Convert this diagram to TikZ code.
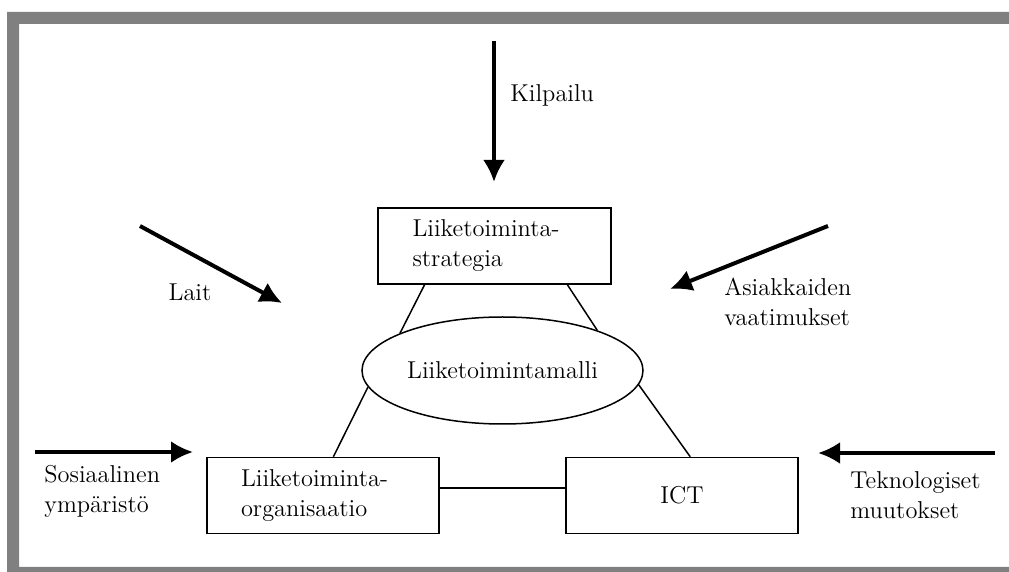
\documentclass[tikz,border=0pt]{standalone}
\usetikzlibrary{arrows.meta,shapes.geometric}
\definecolor{framegray}{RGB}{128,128,128}

\begin{document}
\begin{tikzpicture}[x=0.5pt,y=-0.5pt,
  txt/.style={font=\fontsize{12.2}{15}\selectfont},
  box/.style={txt,draw,line width=0.75pt,minimum width=116pt,minimum height=38pt,inner ysep=0pt},
  link/.style={line width=0.75pt},
  force/.style={line width=2pt,-{Latex[length=11pt,width=11pt]}},
  lbl/.style={txt,inner sep=0pt,align=left}]
\useasboundingbox (0,0) rectangle (1009,572);
% grey frame
\fill[framegray,even odd rule] (7,12) rectangle (1009,572) (19,24) rectangle (1009,567);

% the model
\node[box,align=left,text width=82pt,inner xsep=17.25pt] (strat) at (494.5,246) {Liiketoiminta-\\strategia};
\node[txt,draw,ellipse,line width=0.75pt,minimum width=140.5pt,minimum height=53.5pt,inner sep=0pt] (model) at (502.5,370.5) {Liiketoimintamalli};
\node[box,align=left,text width=82pt,inner xsep=17pt] (org) at (323,495.5) {Liiketoiminta-\\organisaatio};
\node[box,align=center] (ict) at (682,495.5) {ICT};
\draw[link] (strat.209)--(model.160);
\draw[link] (strat.-28)--(model.23);
\draw[link] (model.187)--(org.75);
\draw[link] (model.-6)--(ict.78);
\draw[link] ([yshift=3.75pt]org.east)--([yshift=3.75pt]ict.west);

% outside forces
\coordinate (kilA) at (494,41);   \coordinate (kilB) at (494,182);
\coordinate (laiA) at (140,226);  \coordinate (laiB) at (282,303);
\coordinate (asiA) at (828,226);  \coordinate (asiB) at (670,289);
\coordinate (sosA) at (35,452);   \coordinate (sosB) at (193,452);
\coordinate (tekA) at (995,453);  \coordinate (tekB) at (818,453);
\draw[force] (kilA)--(kilB);
\draw[force] (laiA)--(laiB);
\draw[force] (asiA)--(asiB);
\draw[force] (sosA)--(sosB);
\draw[force] (tekA)--(tekB);
\node[lbl,anchor=west] (kil) at (510,95) {Kilpailu};
\node[lbl] (lai) at (190,292) {Lait};
\node[lbl,anchor=west] (asi) at (724,302) {Asiakkaiden\\vaatimukset};
\node[lbl,anchor=west] (sos) at (44,491) {Sosiaalinen\\ympäristö};
\node[lbl,anchor=west] (tek) at (850,495) {Teknologiset\\muutokset};
\end{tikzpicture}
\end{document}
